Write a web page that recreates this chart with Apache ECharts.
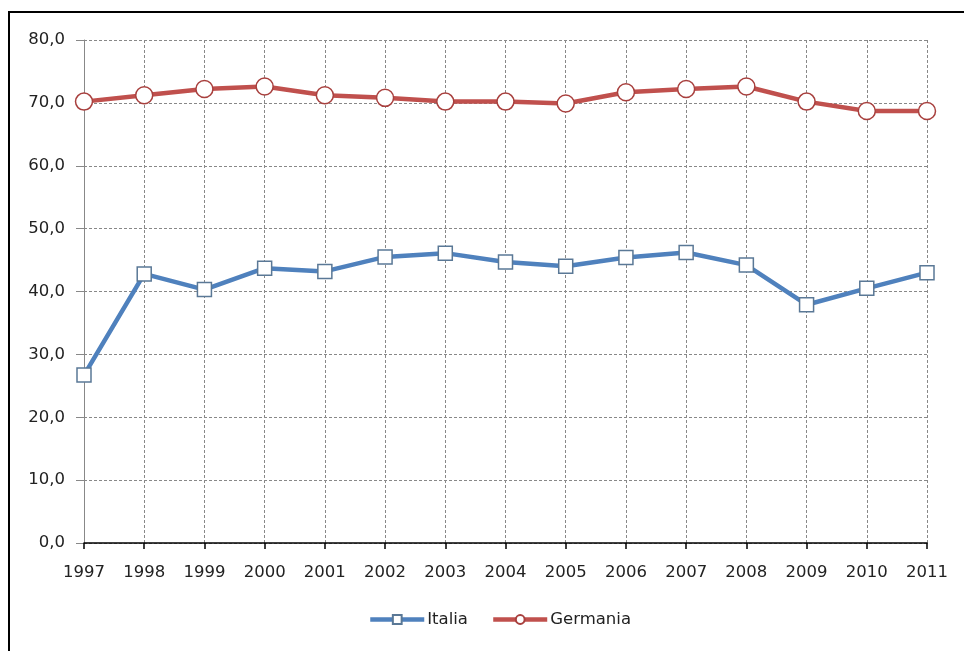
<!DOCTYPE html>
<html>
<head>
<meta charset="utf-8">
<script src="https://cdn.jsdelivr.net/npm/echarts@6/dist/echarts.min.js"></script>
<style>
html,body{margin:0;padding:0;background:#fff;}
#frame{position:absolute;left:8px;top:11px;width:956px;height:640px;border-top:2px solid #000;border-left:2px solid #000;box-sizing:border-box;}
#chart{position:absolute;left:0;top:0;width:964px;height:651px;}
</style>
</head>
<body>
<div id="frame"></div>
<div id="chart"></div>
<script>
const years = ['1997','1998','1999','2000','2001','2002','2003','2004','2005','2006','2007','2008','2009','2010','2011'];
const italia = [26.7, 42.8, 40.3, 43.7, 43.2, 45.5, 46.1, 44.7, 44.0, 45.4, 46.2, 44.2, 37.9, 40.5, 43.0];
const germania = [70.2, 71.2, 72.2, 72.6, 71.2, 70.8, 70.2, 70.2, 69.9, 71.7, 72.2, 72.6, 70.2, 68.7, 68.7];
const yTicks = {min: 0, max: 80, interval: 10};

const chart = echarts.init(document.getElementById('chart'));
const font = '"DejaVu Sans", sans-serif';
chart.setOption({
  animation: false,
  backgroundColor: 'transparent',
  grid: {left: 84, right: 37, top: 40, bottom: 108, containLabel: false},
  xAxis: {
    type: 'category', data: years, boundaryGap: false,
    axisLine: {show: true, lineStyle: {color: '#000', width: 1.5}},
    axisTick: {show: true, alignWithLabel: true, length: 6, lineStyle: {color: '#000', width: 1.5}},
    axisLabel: {color: '#222', fontFamily: font, fontSize: 16.5, margin: 21},
    splitLine: {show: true, lineStyle: {color: '#888', type: [3, 2], width: 1}}
  },
  yAxis: {
    type: 'value', min: yTicks.min, max: yTicks.max, interval: yTicks.interval,
    axisLine: {show: true, lineStyle: {color: '#888', width: 1}},
    axisTick: {show: true, length: 8, lineStyle: {color: '#888'}},
    axisLabel: {color: '#222', fontFamily: font, fontSize: 16.5, margin: 19,
      formatter: v => v.toFixed(1).replace('.', ',')},
    splitLine: {show: true, lineStyle: {color: '#888', type: [3, 2], width: 1}}
  },
  legend: {
    top: 606, left: 363, itemWidth: 54, itemHeight: 11, itemGap: 23,
    lineStyle: {width: 4.5},
    textStyle: {color: '#222', fontFamily: font, fontSize: 16.5, padding: [0, 0, 0, -2]},
    data: ['Italia', 'Germania']
  },
  series: [
    {
      name: 'Italia', type: 'line', data: italia,
      symbol: 'rect', symbolSize: 14,
      lineStyle: {color: '#4F81BD', width: 4.5},
      itemStyle: {color: '#fff', borderColor: '#5a7896', borderWidth: 1.5},
      z: 3
    },
    {
      name: 'Germania', type: 'line', data: germania,
      symbol: 'circle', symbolSize: 17,
      lineStyle: {color: '#C0504D', width: 4.5},
      itemStyle: {color: '#fff', borderColor: '#a8403e', borderWidth: 1.5},
      z: 3
    }
  ]
});
</script>
</body>
</html>
